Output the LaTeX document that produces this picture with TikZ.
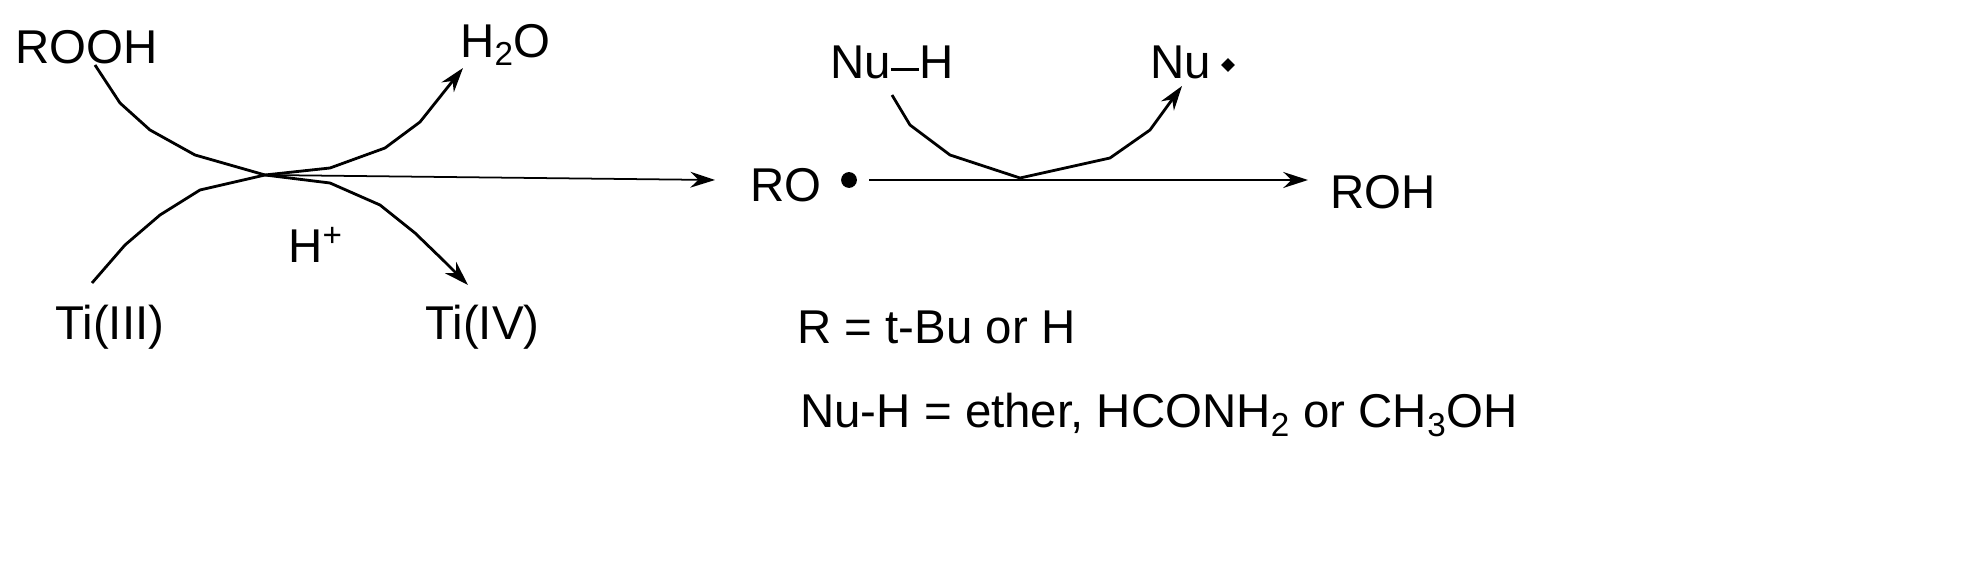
\documentclass[tikz,border=0pt]{standalone}
\usepackage{fontspec}
\setmainfont{Liberation Sans}
\usetikzlibrary{arrows.meta,shapes.geometric}
\begin{document}
\begin{tikzpicture}[x=0.02cm,y=-0.02cm,
  lbl/.style={inner sep=0pt,font=\fontsize{27}{30}\selectfont},
  ln/.style={line width=1.6pt,line join=round},
  arr/.style={ln,-{Stealth[length=14pt,width=9pt]}}]
\useasboundingbox (0,0) rectangle (1969,577);
\node[lbl,anchor=west] (rooh) at (15,47) {ROOH};
\node[lbl,anchor=west] (h2o) at (460,45) {H\textsubscript{2}O};
\node[lbl,anchor=west] (ti3) at (55,327) {Ti(III)};
\node[lbl,anchor=west] (ti4) at (425,327) {Ti(IV)};
\node[lbl,anchor=west] (hp) at (288,245) {H\textsuperscript{+}};
\node[lbl,anchor=west] (ro) at (750,185) {RO};
\node[circle,fill,inner sep=0pt,minimum size=9pt] (dot) at (849,180) {};
\node[lbl,anchor=west] (roh) at (1330,192) {ROH};
\node[lbl,anchor=west] (nuh) at (830,62) {Nu\raisebox{0.3ex}{\rule{0.6em}{1.6pt}}H};
\node[lbl,anchor=west] (nu) at (1150,62) {Nu};
\node[diamond,fill,inner sep=0pt,minimum size=8pt] (nud) at (1228,65) {};
\node[lbl,anchor=west] (r1) at (797,327) {R = t-Bu or H};
\node[lbl,anchor=west] (r2) at (800,415) {Nu-H = ether, HCONH\textsubscript{2} or CH\textsubscript{3}OH};
\coordinate (c) at (265,175);
\coordinate (ra) at (715,180);
\coordinate (a1) at (463,68);
\coordinate (a2) at (468,285);
\coordinate (a3) at (1308,180);
\coordinate (a4) at (1182,86);
\draw[arr] (95,65) -- (120,103) -- (150,130) -- (195,155) -- (c) -- (330,168) -- (385,148) -- (420,122) -- (a1);
\draw[arr] (92,283) -- (125,245) -- (160,215) -- (200,190) -- (c) -- (330,183) -- (380,205) -- (415,233) -- (445,262) -- (a2);
\draw[-{Stealth[length=14pt,width=9pt]},line width=1pt] (c) -- (ra);
\draw[arr] (dot.east) ++(12,0) -- (a3);
\draw[arr] (892,95) -- (910,125) -- (950,155) -- (1020,178) -- (1110,158) -- (1150,130) -- (a4);
\end{tikzpicture}
\end{document}
